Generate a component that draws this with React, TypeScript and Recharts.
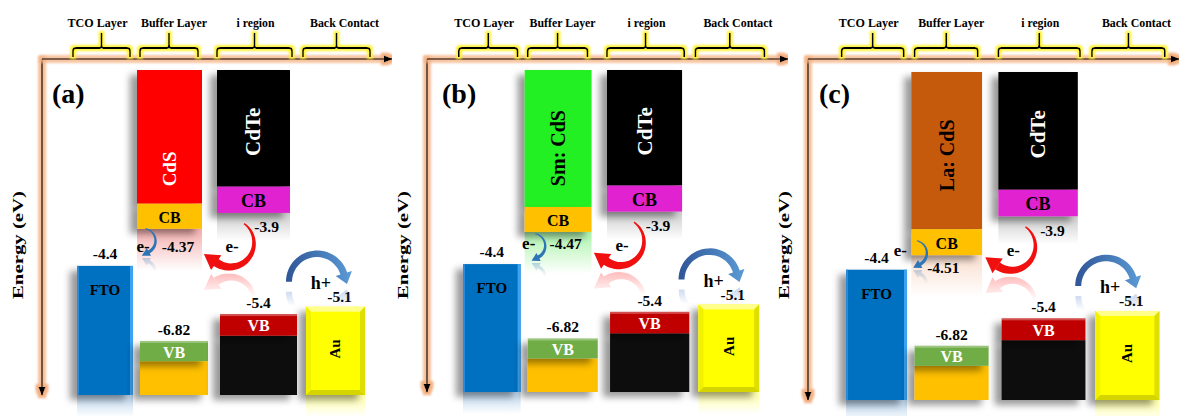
import { ComposedChart, ReferenceArea, ReferenceLine, XAxis, YAxis } from 'recharts'

// Band edges in eV for the three buffer variants (a) CdS, (b) Sm: CdS, (c) La: CdS
const panelTags = ['(a)', '(b)', '(c)']
const layerNames = ['TCO Layer', 'Buffer Layer', 'i region', 'Back Contact']
const bufferNames = ['CdS', 'Sm: CdS', 'La: CdS']
const bufferCB = [-4.37, -4.47, -4.51]
const bufferVB = [-6.82, -6.82, -6.82]
const cdteCB = [-3.9, -3.9, -3.9]
const cdteVB = [-5.4, -5.4, -5.4]
const ftoLevel = [-4.4, -4.4, -4.4]
const auLevel = [-5.1, -5.1, -5.1]

const SERIF = "'Liberation Serif', 'Times New Roman', serif"
const H = 416
const AXIS_W = 42

// column extents on the unitless x axis
const COLS = {
  fto: [35, 91],
  buffer: [95, 160],
  bufferVB: [98, 166],
  cdte: [175, 248],
  cdteVB: [178, 255],
  au: [264, 323],
}
const BRACKETS = [
  [31, 88],
  [98, 156],
  [175, 250],
  [261, 328],
]
const BRACKET_LABEL_DX = [-4, 5, 1, 8]
const BRACKET_LABEL_LEN = [60, 66, 38, 69]

// the sketch is not drawn to scale, so every column has its own energy axis
const TCO_AXIS: [number, number] = [-7.3, 0]
const CDTE_AXIS: [number, number] = [-6.6, -1.78]
const AU_AXIS: [number, number] = [-7.0, 0]
const CDTE_CB_BAND = 0.39
const CDTE_VB_BAND = 0.32

type Panel = {
  left: number
  width: number
  span: number
  bottom: number
  padTop: number
  tagDx: number
  bufferAxis: [number, number]
  cbBand: number
  vbBand: number
  fill: string
  nameColor: string
  nameSize: number
  nameAt: number
  glow: string
  swirl: [number, number]
  eLabel: [number, number]
  vLabel: [number, number]
}

const PANELS: Panel[] = [
  {
    left: 0, width: 392, span: 350, bottom: 21, padTop: 11, tagDx: 10,
    bufferAxis: [-8.0, -0.9], cbBand: 0.55, vbBand: 0.44,
    fill: '#FF0000', nameColor: '#FFFFFF', nameSize: 19, nameAt: 0.74, glow: '#F4A9A9',
    swirl: [6, 12], eLabel: [6, 18], vLabel: [41, 18],
  },
  {
    left: 385, width: 403, span: 351, bottom: 24, padTop: 11, tagDx: 15,
    bufferAxis: [-8.0, -0.9], cbBand: 0.55, vbBand: 0.44,
    fill: '#22F022', nameColor: '#000000', nameSize: 20, nameAt: 0.57, glow: '#A6F2A6',
    swirl: [8, 14], eLabel: [4, 12], vLabel: [41, 12],
  },
  {
    left: 766, width: 413, span: 341, bottom: 16, padTop: 13, tagDx: 11,
    bufferAxis: [-8.2, 0.15], cbBand: 0.66, vbBand: 0.51,
    fill: '#C55A11', nameColor: '#000000', nameSize: 20, nameAt: 0.53, glow: '#F9DCCB',
    swirl: [3, -2], eLabel: [-11, -5], vLabel: [32, 12],
  },
]

// one row per layer so the chart has something to lay its axes out over
const layerRows = layerNames.map((name) => ({ name }))

type Box = { x: number; y: number; width: number; height: number }

const font = (size: number, fill = '#000') => ({
  fontFamily: SERIF,
  fontWeight: 700,
  fontSize: size,
  fill,
})

// tapered arc with a triangular head, angles in degrees (clockwise on screen)
function curlArrow(
  cx: number, cy: number, r: number, from: number, to: number,
  w0: number, w1: number, headLen: number, headHalf: number,
) {
  const rad = Math.PI / 180
  const outer: string[] = []
  const inner: string[] = []
  const n = 30
  for (let i = 0; i <= n; i++) {
    const t = i / n
    const a = (from + (to - from) * t) * rad
    const w = (w0 + (w1 - w0) * t) / 2
    outer.push(`${cx + (r + w) * Math.cos(a)},${cy + (r + w) * Math.sin(a)}`)
    inner.push(`${cx + (r - w) * Math.cos(a)},${cy + (r - w) * Math.sin(a)}`)
  }
  const a = to * rad
  const s = to > from ? 1 : -1
  const bx = cx + r * Math.cos(a)
  const by = cy + r * Math.sin(a)
  const tx = -Math.sin(a) * s
  const ty = Math.cos(a) * s
  const nx = Math.cos(a)
  const ny = Math.sin(a)
  const body = `M${outer.join('L')}L${inner.reverse().join('L')}Z`
  const head = `M${bx + nx * headHalf},${by + ny * headHalf}L${bx + tx * headLen},${by + ty * headLen}L${bx - nx * headHalf},${by - ny * headHalf}Z`
  return body + head
}

// faded mirror image of an arrow below the line y = m
function Mirror({ d, m, fill }: { d: string; m: number; fill: string }) {
  return (
    <g transform={`translate(0 ${2 * m}) scale(1 -1)`} mask="url(#fadeMirror)">
      <path d={d} fill={fill} />
    </g>
  )
}

function Upright({ x, y, size, fill, children }: { x: number; y: number; size: number; fill: string; children: string }) {
  return (
    <text
      x={x}
      y={y}
      transform={`rotate(-90 ${x} ${y})`}
      textAnchor="middle"
      dominantBaseline="central"
      {...font(size, fill)}
    >
      {children}
    </text>
  )
}

const ftoShape = (value: number) => (b: Box) => (
  <g>
    <rect x={b.x} y={b.y + b.height} width={b.width} height={22} fill="url(#reflectBlue)" />
    <rect x={b.x} y={b.y} width={b.width} height={b.height} fill="#0070C0" filter="url(#blockShadow)" />
    <rect x={b.x + b.width - 3} y={b.y} width={3} height={b.height} fill="#3CA3F2" />
    <rect x={b.x} y={b.y} width={2} height={b.height} fill="#2A8ADB" />
    <text x={b.x + b.width / 2} y={b.y - 7} textAnchor="middle" {...font(15.5)}>{value}</text>
    <text x={b.x + b.width / 2} y={b.y + 29} textAnchor="middle" {...font(15)}>FTO</text>
  </g>
)

const auShape = (value: number) => (b: Box) => {
  const { x, y, width: w, height: h } = b
  const e = 5
  const arc = curlArrow(x + 11, y - 25, 28, 180, 343, 6, 7, 11, 8.5)
  return (
    <g>
      <rect x={x} y={y + h} width={w} height={22} fill="url(#reflectYellow)" />
      <rect x={x} y={y} width={w} height={h} fill="#FFFF00" filter="url(#blockShadow)" />
      <polygon points={`${x},${y} ${x + w},${y} ${x + w - e},${y + e} ${x + e},${y + e}`} fill="#FFFF8A" />
      <polygon points={`${x},${y} ${x + e},${y + e} ${x + e},${y + h - e} ${x},${y + h}`} fill="#F2F200" />
      <polygon points={`${x + w},${y} ${x + w - e},${y + e} ${x + w - e},${y + h - e} ${x + w},${y + h}`} fill="#DEDE00" />
      <polygon points={`${x},${y + h} ${x + e},${y + h - e} ${x + w - e},${y + h - e} ${x + w},${y + h}`} fill="#D4D400" />
      <text x={x + w / 2 + 4} y={y - 5} textAnchor="middle" {...font(15.5)}>{value}</text>
      <Upright x={x + w / 2} y={y + h / 2 - 2} size={15} fill="#000">Au</Upright>
      <Mirror d={arc} m={y - 20} fill="#4472C4" />
      <path d={arc} fill="url(#holeGrad)" />
      <text x={x + 15} y={y - 24} textAnchor="middle" dominantBaseline="central" {...font(18)}>h+</text>
    </g>
  )
}

const bodyShape = (fill: string, name: string, color: string, size: number, at: number) => (b: Box) => (
  <g>
    <rect x={b.x} y={b.y} width={b.width} height={b.height} fill={fill} filter="url(#blockShadow)" />
    <Upright x={b.x + b.width / 2} y={b.y + b.height * at} size={size} fill={color}>{name}</Upright>
  </g>
)

const baseShape = (fill: string) => (b: Box) => (
  <rect x={b.x} y={b.y} width={b.width} height={b.height} fill={fill} filter="url(#blockShadow)" />
)

const vbShape = (fill: string, value: number) => (b: Box) => (
  <g>
    <rect x={b.x} y={b.y} width={b.width} height={b.height} fill={fill} filter="url(#blockShadow)" />
    <rect x={b.x} y={b.y} width={b.width} height={2} fill="#FFFFFF" opacity={0.3} />
    <text x={b.x + b.width / 2} y={b.y + b.height / 2 + 1} textAnchor="middle" dominantBaseline="central" {...font(16, '#FFFFFF')}>VB</text>
    <text x={b.x + b.width / 2} y={b.y - 6} textAnchor="middle" {...font(15.5)}>{value}</text>
  </g>
)

const bufferCBShape = (i: number) => (b: Box) => {
  const p = PANELS[i]
  const bx = b.x
  const by = b.y + b.height
  const cx = bx + p.swirl[0]
  const cy = by + p.swirl[1]
  const swirl = curlArrow(cx, cy, 12.5, -78, 62, 1, 3.5, 8, 4.5)
  return (
    <g>
      <rect x={b.x} y={by} width={b.width} height={42} fill={`url(#glow${i})`} />
      <rect x={b.x} y={b.y} width={b.width} height={b.height} fill="#FFC000" filter="url(#blockShadow)" />
      <text x={b.x + b.width / 2} y={b.y + b.height / 2 + 1} textAnchor="middle" dominantBaseline="central" {...font(16)}>CB</text>
      <Mirror d={swirl} m={cy + 16} fill="#2E75B6" />
      <path d={swirl} fill="#2E75B6" />
      <text x={bx + p.eLabel[0]} y={by + p.eLabel[1]} textAnchor="middle" dominantBaseline="central" {...font(17)}>e-</text>
      <text x={bx + p.vLabel[0]} y={by + p.vLabel[1]} textAnchor="middle" dominantBaseline="central" {...font(15.5)}>{bufferCB[i]}</text>
    </g>
  )
}

const cdteCBShape = (i: number) => (b: Box) => {
  const bx = b.x
  const by = b.y + b.height
  const cy = by + 30
  const arrow = curlArrow(bx + 13, cy, 24, -54, 125, 1.5, 8.5, 15, 9)
  return (
    <g>
      <rect x={b.x} y={by} width={b.width} height={28} fill="url(#fadeGray)" />
      <rect x={b.x} y={b.y} width={b.width} height={b.height} fill="#E024D0" filter="url(#blockShadow)" />
      <text x={b.x + b.width / 2} y={b.y + b.height / 2 + 1} textAnchor="middle" dominantBaseline="central" {...font(18)}>CB</text>
      <text x={bx + b.width * 0.68} y={by + 14} textAnchor="middle" dominantBaseline="central" {...font(15.5)}>{cdteCB[i]}</text>
      <Mirror d={arrow} m={cy + 29} fill="#FF2020" />
      <path d={arrow} fill="#F01010" />
      <text x={bx + 15} y={by + 34} textAnchor="middle" dominantBaseline="central" {...font(17)}>e-</text>
    </g>
  )
}

// vertical energy axis, drawn downwards with an arrow head at the bottom
const frameLine = (props: any) => {
  const { x1, y1, y2 } = props
  return (
    <line
      x1={x1}
      x2={x1}
      y1={Math.min(y1, y2)}
      y2={Math.max(y1, y2)}
      stroke="#000"
      strokeWidth={1.6}
      markerEnd="url(#axisArrow)"
      filter="url(#orangeGlow)"
    />
  )
}

function BracketTick(props: any) {
  const { x, index, k } = props
  const i = index ?? 0
  const [lo, hi] = BRACKETS[i]
  const half = ((hi - lo) * k) / 2
  const x1 = x - half
  const x2 = x + half
  const d = `M${x1} 57 V51 Q${x1} 48 ${x1 + 3} 48 H${x - 2} Q${x} 48 ${x} 45 V33 M${x} 45 Q${x} 48 ${x + 2} 48 H${x2 - 3} Q${x2} 48 ${x2} 51 V57`
  return (
    <g>
      <path d={d} fill="none" stroke="#000" strokeWidth={1.8} filter="url(#yellowGlow)" />
      <text
        x={x + BRACKET_LABEL_DX[i]}
        y={27}
        textAnchor="middle"
        textLength={BRACKET_LABEL_LEN[i]}
        lengthAdjust="spacingAndGlyphs"
        {...font(13)}
      >
        {layerNames[i]}
      </text>
    </g>
  )
}

function BandPanel({ i }: { i: number }) {
  const p = PANELS[i]
  const k = (p.width - AXIS_W) / p.span
  const axisLine = { stroke: '#000', strokeWidth: 1.6, markerEnd: 'url(#axisArrow)', filter: 'url(#orangeGlow)' }
  const pad = { top: p.padTop, bottom: 0 }
  const [bLo, bHi] = p.bufferAxis
  const cb = bufferCB[i]
  const vb = bufferVB[i]
  const tcb = cdteCB[i]
  const tvb = cdteVB[i]
  return (
    <div style={{ position: 'absolute', left: p.left, top: 0 }}>
      <ComposedChart data={layerRows} width={p.width} height={H} margin={{ top: 0, right: 0, bottom: p.bottom, left: AXIS_W }}>
        <XAxis
          xAxisId={0}
          dataKey="pos"
          type="number"
          orientation="top"
          height={59}
          domain={[0, p.span]}
          allowDataOverflow
          ticks={BRACKETS.map(([lo, hi]) => (lo + hi) / 2)}
          interval={0}
          tickLine={false}
          axisLine={axisLine}
          tick={(t: any) => <BracketTick {...t} k={k} />}
        />
        <YAxis yAxisId="frame" hide type="number" domain={[0, 1]} allowDataOverflow />
        <YAxis yAxisId="tco" hide type="number" domain={TCO_AXIS} allowDataOverflow padding={pad} />
        <YAxis yAxisId="buffer" hide type="number" domain={p.bufferAxis} allowDataOverflow padding={pad} />
        <YAxis yAxisId="cdte" hide type="number" domain={CDTE_AXIS} allowDataOverflow padding={pad} />
        <YAxis yAxisId="au" hide type="number" domain={AU_AXIS} allowDataOverflow padding={pad} />

        <ReferenceLine xAxisId={0} yAxisId="frame" x={0} ifOverflow="visible" shape={frameLine} />

        <ReferenceArea xAxisId={0} yAxisId="tco" x1={COLS.fto[0]} x2={COLS.fto[1]} y1={TCO_AXIS[0]} y2={ftoLevel[i]} ifOverflow="visible" shape={ftoShape(ftoLevel[i])} />
        <ReferenceArea xAxisId={0} yAxisId="au" x1={COLS.au[0]} x2={COLS.au[1]} y1={AU_AXIS[0]} y2={auLevel[i]} ifOverflow="visible" shape={auShape(auLevel[i])} />

        <ReferenceArea xAxisId={0} yAxisId="buffer" x1={COLS.buffer[0]} x2={COLS.buffer[1]} y1={cb + p.cbBand} y2={bHi} ifOverflow="visible"
          shape={bodyShape(p.fill, bufferNames[i], p.nameColor, p.nameSize, p.nameAt)} />
        <ReferenceArea xAxisId={0} yAxisId="buffer" x1={COLS.bufferVB[0]} x2={COLS.bufferVB[1]} y1={bLo} y2={vb - p.vbBand} ifOverflow="visible" shape={baseShape('#FFC000')} />
        <ReferenceArea xAxisId={0} yAxisId="buffer" x1={COLS.bufferVB[0]} x2={COLS.bufferVB[1]} y1={vb - p.vbBand} y2={vb} ifOverflow="visible" shape={vbShape('#70AD47', vb)} />

        <ReferenceArea xAxisId={0} yAxisId="cdte" x1={COLS.cdte[0]} x2={COLS.cdte[1]} y1={tcb + CDTE_CB_BAND} y2={CDTE_AXIS[1]} ifOverflow="visible"
          shape={bodyShape('#000000', 'CdTe', '#FFFFFF', 21, 0.53)} />
        <ReferenceArea xAxisId={0} yAxisId="cdte" x1={COLS.cdteVB[0]} x2={COLS.cdteVB[1]} y1={CDTE_AXIS[0]} y2={tvb - CDTE_VB_BAND} ifOverflow="visible" shape={baseShape('#0D0D0D')} />
        <ReferenceArea xAxisId={0} yAxisId="cdte" x1={COLS.cdteVB[0]} x2={COLS.cdteVB[1]} y1={tvb - CDTE_VB_BAND} y2={tvb} ifOverflow="visible" shape={vbShape('#C00000', tvb)} />

        <ReferenceArea xAxisId={0} yAxisId="buffer" x1={COLS.buffer[0]} x2={COLS.buffer[1]} y1={cb} y2={cb + p.cbBand} ifOverflow="visible" shape={bufferCBShape(i)} />
        <ReferenceArea xAxisId={0} yAxisId="cdte" x1={COLS.cdte[0]} x2={COLS.cdte[1]} y1={tcb} y2={tcb + CDTE_CB_BAND} ifOverflow="visible" shape={cdteCBShape(i)} />

        <text x={AXIS_W + p.tagDx} y={103} {...font(28)}>{panelTags[i]}</text>
        <text
          x={18}
          y={245}
          transform="rotate(-90 18 245)"
          textAnchor="middle"
          dominantBaseline="central"
          textLength={108}
          lengthAdjust="spacingAndGlyphs"
          {...font(15)}
        >
          Energy (eV)
        </text>
      </ComposedChart>
    </div>
  )
}

function Defs() {
  const big = { filterUnits: 'userSpaceOnUse' as const, x: -100, y: -100, width: 1400, height: 700 }
  return (
    <svg width={0} height={0} style={{ position: 'absolute' }}>
      <defs>
        <marker id="axisArrow" viewBox="0 0 10 10" refX={9} refY={5} markerWidth={9} markerHeight={9} markerUnits="userSpaceOnUse" orient="auto">
          <path d="M0,1 L10,5 L0,9 Z" fill="#000" />
        </marker>
        <filter id="orangeGlow" {...big}>
          <feMorphology in="SourceAlpha" operator="dilate" radius={2.5} result="d" />
          <feGaussianBlur in="d" stdDeviation={1.2} result="b" />
          <feFlood floodColor="#F4B183" />
          <feComposite in2="b" operator="in" result="g" />
          <feMerge>
            <feMergeNode in="g" />
            <feMergeNode in="SourceGraphic" />
          </feMerge>
        </filter>
        <filter id="yellowGlow" {...big}>
          <feMorphology in="SourceAlpha" operator="dilate" radius={1.5} result="d" />
          <feGaussianBlur in="d" stdDeviation={1} result="b" />
          <feFlood floodColor="#FFF23C" />
          <feComposite in2="b" operator="in" result="g" />
          <feMerge>
            <feMergeNode in="g" />
            <feMergeNode in="SourceGraphic" />
          </feMerge>
        </filter>
        <filter id="blockShadow" {...big}>
          <feDropShadow dx={-7} dy={5} stdDeviation={3.5} floodColor="#000" floodOpacity={0.4} />
        </filter>
        <linearGradient id="mirrorFade" x1="0" y1="1" x2="0" y2="0">
          <stop offset="0" stopColor="#fff" stopOpacity={0.3} />
          <stop offset="0.5" stopColor="#fff" stopOpacity={0} />
        </linearGradient>
        <mask id="fadeMirror" maskContentUnits="objectBoundingBox">
          <rect width={1} height={1} fill="url(#mirrorFade)" />
        </mask>
        {PANELS.map((p, i) => (
          <linearGradient key={i} id={`glow${i}`} x1="0" y1="0" x2="0" y2="1">
            <stop offset="0" stopColor={p.glow} stopOpacity={0.95} />
            <stop offset="1" stopColor={p.glow} stopOpacity={0} />
          </linearGradient>
        ))}
        <linearGradient id="fadeGray" x1="0" y1="0" x2="0" y2="1">
          <stop offset="0" stopColor="#BFBFBF" stopOpacity={0.8} />
          <stop offset="1" stopColor="#BFBFBF" stopOpacity={0} />
        </linearGradient>
        <linearGradient id="reflectBlue" x1="0" y1="0" x2="0" y2="1">
          <stop offset="0" stopColor="#9DC3E6" stopOpacity={0.7} />
          <stop offset="1" stopColor="#9DC3E6" stopOpacity={0} />
        </linearGradient>
        <linearGradient id="reflectYellow" x1="0" y1="0" x2="0" y2="1">
          <stop offset="0" stopColor="#FFFF80" stopOpacity={0.7} />
          <stop offset="1" stopColor="#FFFF80" stopOpacity={0} />
        </linearGradient>
        <linearGradient id="holeGrad" x1="0" y1="0" x2="1" y2="0">
          <stop offset="0" stopColor="#2F5597" />
          <stop offset="1" stopColor="#5B9BD5" />
        </linearGradient>
      </defs>
    </svg>
  )
}

export default function App() {
  return (
    <div style={{ position: 'relative', width: 1179, height: H, background: '#fff', overflow: 'hidden' }}>
      <style>{'body{margin:0}'}</style>
      <Defs />
      {PANELS.map((_, i) => (
        <BandPanel key={i} i={i} />
      ))}
    </div>
  )
}
